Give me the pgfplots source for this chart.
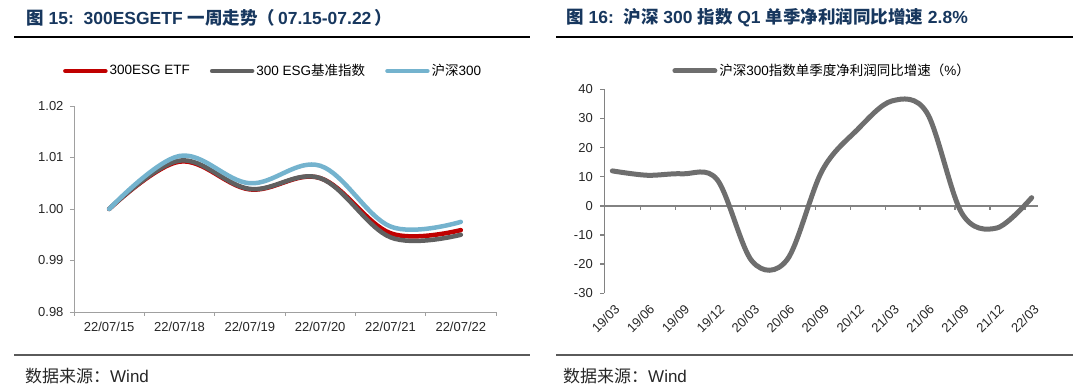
\documentclass[border=0pt]{standalone}
\usepackage{fontspec}
\setmainfont{Liberation Sans}
\newfontfamily\cjk{Noto Sans CJK SC}
\usepackage{pgfplots}
\pgfplotsset{compat=1.18}
\pgfplotsset{/pgf/number format/assume math mode=true}
\definecolor{titleblue}{RGB}{23,55,94}
\definecolor{esgred}{RGB}{192,0,0}
\definecolor{esggray}{RGB}{96,96,96}
\definecolor{hsblue}{RGB}{116,179,206}
\definecolor{axgray}{RGB}{160,160,160}
\definecolor{axgrayd}{RGB}{130,130,130}
\definecolor{linegray}{RGB}{110,110,110}
\definecolor{rulegray}{RGB}{90,90,90}
\newcommand{\fs}[1]{\fontsize{#1}{#1}\selectfont}

\begin{document}
\begin{tikzpicture}
\path[use as bounding box] (0,0) rectangle (1080pt,391pt);
% titles
\node[anchor=west, text=titleblue, font=\fs{17.5pt}\bfseries, inner sep=0] at (26pt,373pt)
  {{\cjk\bfseries 图} 15:\ \ 300ESGETF {\cjk\bfseries 一周走势（}\,07.15-07.22\,{\cjk\bfseries ）}};
\node[anchor=west, text=titleblue, font=\fs{17.5pt}\bfseries, inner sep=0] at (566pt,373pt)
  {{\cjk\bfseries 图} 16:\ \ {\cjk\bfseries 沪深} 300 {\cjk\bfseries 指数} Q1 {\cjk\bfseries 单季净利润同比增速} 2.8\%};
\draw[line width=1.4pt, black] (14pt,354pt) -- (530pt,354pt);
\draw[line width=1.4pt, black] (556pt,354pt) -- (1073pt,354pt);
\draw[line width=1.4pt, rulegray] (14pt,36pt) -- (530pt,36pt);
\draw[line width=1.4pt, rulegray] (556pt,36pt) -- (1073pt,36pt);
\node[anchor=west, font=\fs{17pt}, inner sep=0, text=black!85] at (25pt,15pt) {{\cjk 数据来源：}Wind};
\node[anchor=west, font=\fs{17pt}, inner sep=0, text=black!85] at (563pt,15pt) {{\cjk 数据来源：}Wind};

% left chart
\begin{axis}[
  at={(74pt,79pt)}, anchor=south west, scale only axis,
  width=422pt, height=206pt,
  xmin=-0.5, xmax=5.5, ymin=0.98, ymax=1.02,
  axis lines*=left,
  axis line style={draw=axgray, line width=0.9pt, -},
  xtick={-0.5,0.5,1.5,2.5,3.5,4.5,5.5},
  x tick label as interval,
  xticklabels={22/07/15,22/07/18,22/07/19,22/07/20,22/07/21,22/07/22},
  ytick={0.98,0.99,1.00,1.01,1.02},
  yticklabel style={/pgf/number format/fixed, /pgf/number format/fixed zerofill, /pgf/number format/precision=2, xshift=-3pt},
  xticklabel style={yshift=-3pt},
  tick align=outside, major tick length=4pt,
  tick style={draw=axgray, line width=0.9pt},
  ticklabel style={font=\fs{13pt}, text=black!85},
  legend columns=3,
  legend style={draw=none, fill=none, at={(0.472,1.17)}, anchor=center, font=\fs{13.5pt},
    /tikz/every even column/.append style={column sep=18pt}, inner sep=0pt},
  legend cell align=left,
  legend image code/.code={\draw[#1] (0pt,0pt) -- (40pt,0pt);},
  clip=false,
]
\addplot[esgred, line width=4.5pt, smooth, tension=0.6, line cap=round] coordinates
  {(0,1.0000) (1,1.0092) (2,1.0038) (3,1.0060) (4,0.9953) (5,0.9959)};
\addlegendentry{300ESG ETF}
\addplot[esggray, line width=4.5pt, smooth, tension=0.6, line cap=round] coordinates
  {(0,1.0000) (1,1.0094) (2,1.0039) (3,1.0060) (4,0.9945) (5,0.9950)};
\addlegendentry{300 ESG{\cjk 基准指数}}
\addplot[hsblue, line width=4.5pt, smooth, tension=0.6, line cap=round] coordinates
  {(0,1.0000) (1,1.0103) (2,1.0050) (3,1.0084) (4,0.9966) (5,0.9975)};
\addlegendentry{{\cjk 沪深}300}
\end{axis}

% right chart
\begin{axis}[
  at={(604.3pt,97.7pt)}, anchor=south west, scale only axis,
  width=434pt, height=204pt,
  xmin=-0.23, xmax=12.19, ymin=-30, ymax=40,
  axis lines*=left,
  y axis line style={draw=axgrayd, line width=1.5pt, -},
  x axis line style={draw=none},
  xtick={0,...,12},
  xticklabels={19/03,19/06,19/09,19/12,20/03,20/06,20/09,20/12,21/03,21/06,21/09,21/12,22/03},
  xticklabel style={rotate=45, anchor=north east, yshift=-2pt},
  xtick style={draw=none},
  ytick={-30,-20,...,40},
  yticklabel style={xshift=-4pt},
  tick align=outside, major tick length=4pt,
  ytick style={draw=axgrayd, line width=1.5pt},
  ticklabel style={font=\fs{13pt}, text=black!85},
  legend style={draw=none, fill=none, at={(0.502,1.09)}, anchor=center, font=\fs{13.5pt}, inner sep=0pt},
  legend image code/.code={\draw[#1] (0pt,0pt) -- (40pt,0pt);},
  clip=false,
]
\draw[axgrayd, line width=1.5pt] (axis cs:-0.23,0) -- (axis cs:12.19,0);
\pgfplotsinvokeforeach{0,...,11}{\draw[axgrayd, line width=1.5pt] (axis cs:#1.81,0) -- ([yshift=-4pt]axis cs:#1.81,0);}
\addplot[linegray, line width=5pt, smooth, tension=0.55, line cap=round] coordinates
  {(0,12) (1,10.5) (2,11) (3,9) (4,-19) (5,-18.5) (6,12) (7,26) (8,36) (9,32) (10,-2.5) (11,-7.6) (12,2.8)};
\addlegendentry{{\cjk 沪深}300{\cjk 指数单季度净利润同比增速（}\%{\cjk ）}}
\end{axis}
\end{tikzpicture}
\end{document}
